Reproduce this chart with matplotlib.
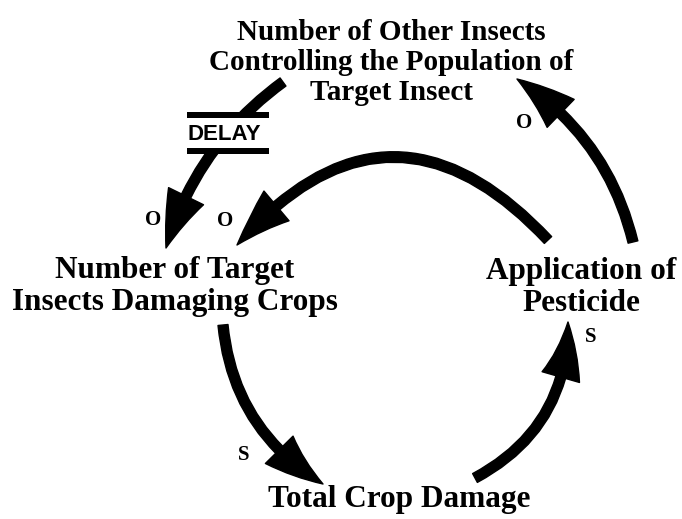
import matplotlib
matplotlib.use("Agg")
import matplotlib.pyplot as plt
from matplotlib.patches import FancyArrowPatch, Rectangle

# node labels: text, centre x, baseline y of the last line (pixel coords of the picture)
nodeText = ["Number of Other Insects\nControlling the Population of\nTarget Insect",
            "Number of Target\nInsects Damaging Crops",
            "Application of\nPesticide",
            "Total Crop Damage"]
nodeX = [391, 175, 581, 399]
nodeY = [100, 310, 311, 507]
nodeSize = [21, 22.5, 22.5, 22.5]

# causal links: start, end, curvature
linkStart = [(283, 82), (548, 240), (633, 242), (223, 325), (475, 478)]
linkEnd = [(166, 248), (237, 245), (517, 79), (323, 484), (568, 322)]
linkRad = [0.17, 0.55, 0.2, 0.25, 0.3]

# polarity marks
signText = ["O", "O", "O", "S", "S"]
signX = [153, 225, 524, 591, 244]
signY = [220, 221, 123, 337, 455]

serif = ["Liberation Serif", "DejaVu Serif"]

fig = plt.figure(figsize=(6.82, 5.19), dpi=100)
ax = fig.add_axes([0, 0, 1, 1])
ax.set_xlim(0, 682)
ax.set_ylim(519, 0)
ax.axis("off")

style = "simple,head_length=40,head_width=28,tail_width=7.2"
for a, b, r in zip(linkStart, linkEnd, linkRad):
    arr = FancyArrowPatch(a, b, arrowstyle=style, connectionstyle="arc3,rad=%s" % r,
                          mutation_scale=1, color="k", shrinkA=0, shrinkB=0, zorder=2)
    ax.add_patch(arr)

# delay mark on the first link
ax.add_patch(Rectangle((187, 112), 82, 42, facecolor="white", edgecolor="none", zorder=3))
ax.add_patch(Rectangle((187, 112), 82, 6, facecolor="k", edgecolor="none", zorder=4))
ax.add_patch(Rectangle((187, 148), 82, 6, facecolor="k", edgecolor="none", zorder=4))
ax.text(224, 134, "DELAY", ha="center", va="center", fontsize=16, fontweight="bold",
        family=["Liberation Sans", "DejaVu Sans"], zorder=5)

for t, x, y, s in zip(nodeText, nodeX, nodeY, nodeSize):
    ax.text(x, y, t, ha="center", va="baseline", fontsize=s, fontweight="bold",
            family=serif, linespacing=1.15, zorder=5)

for t, x, y in zip(signText, signX, signY):
    ax.text(x, y, t, ha="center", va="center", fontsize=15, fontweight="bold",
            family=serif, zorder=5)

fig.savefig("out.png", dpi=100)
